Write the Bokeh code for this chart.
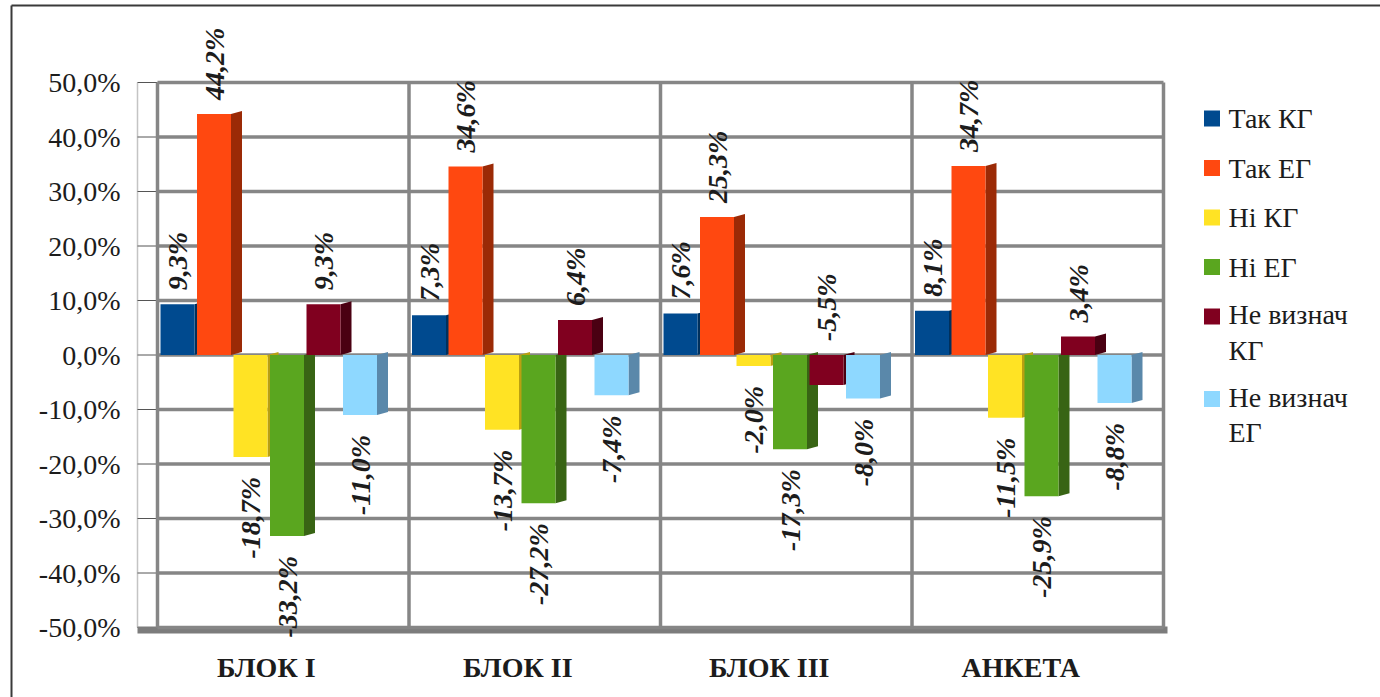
import numpy as np
from bokeh.plotting import figure
from bokeh.models import ColumnDataSource, FixedTicker, Range1d
from bokeh.core.properties import value
from bokeh.embed import file_html
from bokeh.resources import INLINE

# ---- data -------------------------------------------------------------
categories = ["БЛОК I", "БЛОК II", "БЛОК III", "АНКЕТА"]
legend_labels = ["Так КГ", "Так ЕГ", "Ні КГ", "Ні ЕГ", "Не визнач\nКГ", "Не визнач\nЕГ"]
tak_kg = [9.3, 7.3, 7.6, 8.1]
tak_eg = [44.2, 34.6, 25.3, 34.7]
ni_kg = [-18.7, -13.7, -2.0, -11.5]
ni_eg = [-33.2, -27.2, -17.3, -25.9]
nevyz_kg = [9.3, 6.4, -5.5, 3.4]
nevyz_eg = [-11.0, -7.4, -8.0, -8.8]
y_ticks = [-50, -40, -30, -20, -10, 0, 10, 20, 30, 40, 50]

series = [tak_kg, tak_eg, ni_kg, ni_eg, nevyz_kg, nevyz_eg]
front_colors = ["#004a8f", "#ff4810", "#ffe324", "#5aa61f", "#80001f", "#8ed8ff"]
side_colors = ["#00305c", "#9b2a06", "#b9a012", "#386414", "#4a0012", "#5a88aa"]
# labels drawn on the positive side even though the value is negative
label_on_top = {(4, 2)}

# ---- geometry (pixels) -----------------------------------------------
W, H = 1380, 697
PPX = 251.5          # pixels per category
PPY = 5.45           # pixels per percent
X0 = -0.5 - 157 / PPX
X1 = X0 + W / PPX
Y1 = 50 + 82 / PPY
Y0 = Y1 - H / PPY


def xd(px):
    return X0 + px / PPX


def yd(py):
    return Y1 - py / PPY


def dx(px):
    return px / PPX


def dy(py):
    return py / PPY


FONT = "Liberation Serif"
SERIF = value(FONT)
INK = "#1c1c1c"
GRID = "#868686"

p = figure(width=W, height=H, x_range=Range1d(X0, X1), y_range=Range1d(Y0, Y1),
           output_backend="svg", toolbar_location=None, x_axis_type=None,
           min_border=0, outline_line_color=None,
           background_fill_color="white", border_fill_color="white")
p.ygrid.visible = False

# y axis pinned next to the back wall, "50,0%" style labels
yax = p.yaxis[0]
yax.fixed_location = xd(130)
yax.ticker = FixedTicker(ticks=y_ticks)
yax.major_label_overrides = {t: f"{t:.1f}%".replace(".", ",") for t in y_ticks}
yax.axis_line_color = None
yax.major_tick_line_color = None
yax.minor_tick_line_color = None
yax.major_tick_out = 0
yax.major_label_standoff = 10
yax.major_label_text_font = FONT
yax.major_label_text_font_size = "28px"
yax.major_label_text_color = INK

# outer frame of the chart object
p.segment(x0=[xd(11), xd(11)], y0=[yd(5), yd(5)], x1=[xd(11), xd(W + 10)],
          y1=[yd(H + 10), yd(5)], line_color="#3a3a3a", line_width=2)

# ---- walls, floor and gridlines --------------------------------------
wall_x = xd(137)
p.segment(x0=[wall_x], y0=[-50], x1=[wall_x], y1=[50], line_color="#c4c4c4", line_width=1.5)
p.segment(x0=[wall_x] * len(y_ticks), y0=y_ticks, x1=[-0.5] * len(y_ticks), y1=y_ticks,
          line_color="#555555", line_width=1)
p.quad(left=[wall_x], right=[3.5 + dx(4)], top=[-50 + dy(1)], bottom=[-50 - dy(6)],
       fill_color="#7c7c7c", line_color=None)
p.segment(x0=[-0.5] * len(y_ticks), y0=y_ticks, x1=[3.5] * len(y_ticks), y1=y_ticks,
          line_color=GRID, line_width=3.5)
bounds = [i - 0.5 for i in range(len(categories) + 1)]
p.segment(x0=bounds, y0=[-50] * len(bounds), x1=bounds, y1=[50] * len(bounds),
          line_color=GRID, line_width=3.5)

# ---- 3D bars ---------------------------------------------------------
PITCH = dx(36.5)
FRONT = dx(34)
DEPTH = dx(11)
RISE = dy(3)

pos_lab = dict(x=[], y=[], text=[])
neg_lab = dict(x=[], y=[], text=[])

for i, vals in enumerate(series):
    lefts = [c - 0.5 + dx(3) + i * PITCH for c in range(len(categories))]
    rights = [l + FRONT for l in lefts]
    xs, ys = [], []
    for r, v in zip(rights, vals):
        xs.append([r, r + DEPTH, r + DEPTH, r])
        ys.append([0, RISE, v + RISE, v])
    p.patches(xs=xs, ys=ys, fill_color=side_colors[i], line_color=None)
    p.quad(left=lefts, right=rights, top=[max(v, 0) for v in vals],
           bottom=[min(v, 0) for v in vals], fill_color=front_colors[i],
           line_color=None)
    for c, (l, r, v) in enumerate(zip(lefts, rights, vals)):
        txt = f"{v:.1f}%".replace(".", ",")
        if v >= 0 or (i, c) in label_on_top:
            pos_lab["x"].append((l + r) / 2)
            pos_lab["y"].append(max(v, 0))
            pos_lab["text"].append(txt)
        else:
            neg_lab["x"].append((l + r) / 2)
            neg_lab["y"].append(v)
            neg_lab["text"].append(txt)

lab_style = dict(angle=np.pi / 2, text_font=SERIF, text_font_size="28px",
                 text_font_style="bold italic", text_color=INK, text_baseline="middle")
p.text(x="x", y="y", text="text", source=ColumnDataSource(pos_lab),
       text_align="left", y_offset=-14, **lab_style)
p.text(x="x", y="y", text="text", source=ColumnDataSource(neg_lab),
       text_align="right", y_offset=20, **lab_style)

# ---- category labels -------------------------------------------------
p.text(x=list(range(len(categories))), y=[yd(667)] * len(categories), text=categories,
       x_offset=-17, text_font=SERIF, text_font_size="28px", text_font_style="bold",
       text_color=INK, text_align="center", text_baseline="middle")

# ---- legend ----------------------------------------------------------
row_y = []
cur = 118
for lab in legend_labels:
    row_y.append(cur)
    cur += 49.5 + 33 * lab.count("\n")
leg_text_y = [yd(r + 16 * lab.count("\n")) for r, lab in zip(row_y, legend_labels)]
p.rect(x=[xd(1211.5)] * len(row_y), y=[yd(r) for r in row_y], width=dx(16), height=dy(16),
       fill_color=front_colors, line_color=None)
p.text(x=[xd(1228)] * len(row_y), y=leg_text_y, text=legend_labels, text_font=SERIF,
       text_font_size="28px", text_color=INK, text_align="left", text_baseline="middle",
       text_line_height=1.14)

open("out.html", "w").write(file_html(p, INLINE))
